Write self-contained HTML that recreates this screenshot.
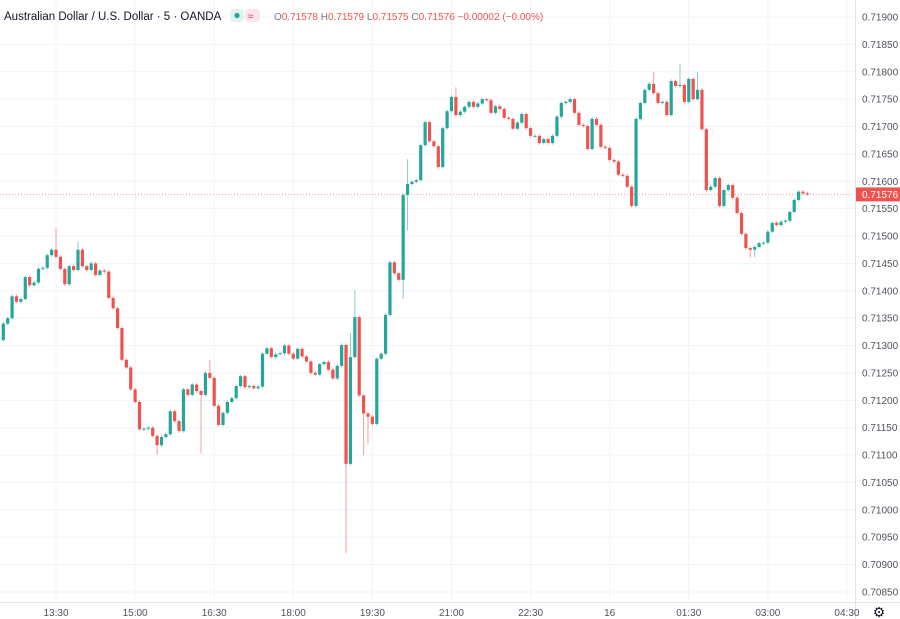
<!DOCTYPE html>
<html><head><meta charset="utf-8">
<style>
html,body{margin:0;padding:0;background:#fff;width:900px;height:619px;overflow:hidden;font-family:"Liberation Sans",sans-serif;}
svg{display:block}
</style></head>
<body>
<svg id="chart" width="900" height="619" xmlns="http://www.w3.org/2000/svg">
  <g id="grid"></g>
  <g id="candles"></g>
  <g id="yaxis"></g>
  <g id="xaxis"></g>
  <g>
    <text x="4" y="20" font-size="11.5" fill="#131722">Australian Dollar / U.S. Dollar · 5 · OANDA</text>
    <rect x="230" y="9" width="14" height="13" rx="4" fill="#e0f2f1"/>
    <circle cx="237" cy="15.5" r="2.6" fill="#26a69a"/>
    <rect x="245" y="9" width="15" height="13" rx="4" fill="#fce4ec"/>
    <text x="248" y="19.5" font-size="10" fill="#e91e63">≈</text>
    <text x="274" y="20" font-size="10" fill="#ef5350"><tspan fill="#787b86">O</tspan>0.71578 <tspan fill="#787b86">H</tspan>0.71579 <tspan fill="#787b86">L</tspan>0.71575 <tspan fill="#787b86">C</tspan>0.71576 −0.00002 (−0.00%)</text>
  </g>
</svg>
<script>
const closes=[0.71340,0.71350,0.71390,0.71380,0.71385,0.71425,0.71410,0.71415,0.71440,0.71442,0.71465,0.71475,0.71462,0.71440,0.71412,0.71445,0.71438,0.71475,0.71445,0.71438,0.71450,0.71429,0.71437,0.71435,0.71387,0.71368,0.71332,0.71274,0.71260,0.71220,0.71197,0.71147,
0.71148,0.71150,0.71135,0.71118,0.71133,0.71138,0.71180,0.71162,0.71144,0.71220,0.71210,0.71229,0.71217,0.71210,0.71250,0.71241,0.71190,0.71155,0.71177,0.71197,0.71204,0.71226,0.71244,0.71224,0.71226,0.71222,0.71225,0.71285,0.71295,0.71279,
0.71284,0.71286,0.71300,0.71285,0.71276,0.71294,0.71280,0.71271,0.71250,0.71247,0.71266,0.71270,0.71256,0.71240,0.71263,0.71301,0.71084,0.71279,0.71352,0.71209,0.71176,0.71170,0.71157,0.71276,0.71285,0.71356,0.71452,
0.71432,0.71420,0.71575,0.71595,0.71599,0.71602,0.71666,0.71708,0.71673,0.71664,0.71626,0.71697,0.71728,0.71754,0.71721,0.71727,0.71736,0.71745,0.71736,0.71742,0.71750,0.71748,0.71725,0.71737,0.71732,0.71716,0.71714,0.71696,0.71707,0.71723,0.71697,0.71683,
0.71683,0.71670,0.71677,0.71670,0.71683,0.71718,0.71743,0.71745,0.71750,0.71725,0.71703,0.71701,0.71659,0.71714,0.71703,0.71663,0.71661,0.71639,0.71636,0.71612,0.71610,0.71590,0.71555,
0.71714,0.71743,0.71767,0.71778,0.71761,0.71743,0.71745,0.71721,0.71783,0.71774,0.71776,0.71745,0.71787,0.71750,0.71767,0.71695,0.71584,0.71590,0.71606,0.71555,0.71584,0.71593,0.71570,0.71542,0.71504,0.71478,0.71475,0.71480,0.71487,0.71488,0.71508,0.71524,0.71520,0.71526,0.71528,0.71544,0.71566,0.71581,0.71578,0.71576];
const firstOpen=0.71310;
const wickHighIdx=[12,17,47,79,80,92,103,148,154,158];
const wickHighVal=[0.71515,0.71490,0.71273,0.71323,0.71401,0.71640,0.71772,0.71800,0.71815,0.71800];
const wickLowIdx=[35,45,78,82,83,91,92,170,171];
const wickLowVal=[0.71100,0.71103,0.70921,0.71100,0.71120,0.71385,0.71510,0.71460,0.71462];
const priceTicks=[0.71900,0.71850,0.71800,0.71750,0.71700,0.71650,0.71600,0.71550,0.71500,0.71450,0.71400,0.71350,0.71300,0.71250,0.71200,0.71150,0.71100,0.71050,0.71000,0.70950,0.70900,0.70850];
const timeTickIdx=[12,30,48,66,84,102,120,138,156,174,192];
const timeTickLabels=["13:30","15:00","16:30","18:00","19:30","21:00","22:30","16","01:30","03:00","04:30"];
const lastPrice=0.71576;

const NS="http://www.w3.org/2000/svg";
const plotRight=855, plotBottom=602;
function yOf(p){return 17+(0.71900-p)/0.0005*27.38;}
function xOf(i){return 3.3+i*4.394;}
function mk(tag,attrs,parent){const e=document.createElementNS(NS,tag);for(const k in attrs)e.setAttribute(k,attrs[k]);parent.appendChild(e);return e;}
const grid=document.getElementById('grid'),cg=document.getElementById('candles'),ya=document.getElementById('yaxis'),xa=document.getElementById('xaxis');
priceTicks.forEach(p=>{
  const y=yOf(p);
  const l=mk('line',{x1:0,x2:plotRight,y1:y,y2:y,stroke:'#f0f3fa','stroke-width':1},grid);
  
  
  const t=mk('text',{x:862,y:y+3.5,'font-size':'10',fill:'#50535e'},ya);
  t.textContent=p.toFixed(5);
  
  
});
timeTickIdx.forEach((idx,k)=>{
  const x=xOf(idx);
  const l=mk('line',{x1:x,x2:x,y1:0,y2:plotBottom,stroke:'#f0f3fa','stroke-width':1},grid);
  
  
  const t=mk('text',{x:x,y:616,'font-size':'10',fill:'#50535e','text-anchor':'middle'},xa);
  t.textContent=timeTickLabels[k];
  
  
});
const b1=mk('line',{x1:plotRight+0.5,x2:plotRight+0.5,y1:0,y2:619,stroke:'#e0e3eb'},grid);


const b2=mk('line',{x1:0,x2:900,y1:plotBottom+0.5,y2:plotBottom+0.5,stroke:'#e0e3eb'},grid);


const ly=yOf(lastPrice);
const pl=mk('line',{x1:0,x2:plotRight,y1:ly,y2:ly,stroke:'#ef5350','stroke-width':1,'stroke-dasharray':'1 2',opacity:0.6},grid);


closes.forEach((c,i)=>{
  const o=i===0?firstOpen:closes[i-1];
  let hi=Math.max(o,c)+0.00003, lo=Math.min(o,c)-0.00003;
  const hk=wickHighIdx.indexOf(i); if(hk>=0) hi=wickHighVal[hk];
  const lk=wickLowIdx.indexOf(i); if(lk>=0) lo=wickLowVal[lk];
  const up=c>=o, col=up?'#26a69a':'#ef5350';
  const x=xOf(i);
  const g=mk('g',{},cg);
  
  
  const w=mk('line',{x1:x,x2:x,y1:yOf(hi),y2:yOf(lo),stroke:col,'stroke-width':1,opacity:0.55},g);
  
  
  const yt=yOf(Math.max(o,c)), yb=yOf(Math.min(o,c));
  const r=mk('rect',{x:x-1.6,y:yt,width:3.2,height:Math.max(1,yb-yt),fill:col},g);
  
  
});
const lr=mk('rect',{x:856,y:ly-7,width:44,height:14,fill:'#ef5350'},ya);


const lt=mk('text',{x:862,y:ly+3.5,'font-size':'10',fill:'#fff'},ya);
lt.textContent=lastPrice.toFixed(5);


const gear=mk('text',{x:879,y:617,'font-size':'14',fill:'#131722','text-anchor':'middle'},xa);
gear.textContent='⚙';


</script>
</body></html>
